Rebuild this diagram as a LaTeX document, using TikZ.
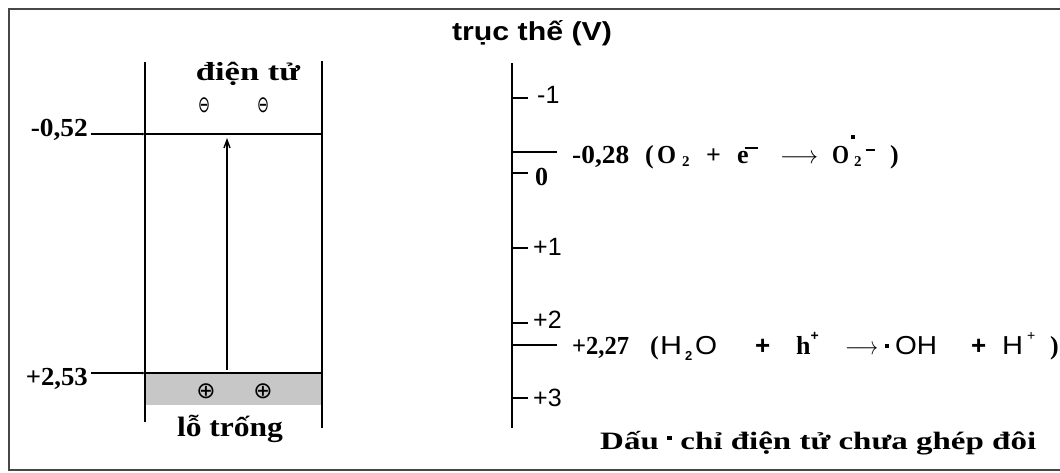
\documentclass[tikz,border=0pt]{standalone}
\usepackage{fontspec}
\usepackage{graphicx}
\setmainfont{Liberation Serif}
\newfontfamily\sansf{Liberation Sans}
\newfontfamily\symf{DejaVu Sans}
\usetikzlibrary{arrows.meta}
\newcommand\fitw[2]{\resizebox{#1}{\height}{#2}}
\newcommand\fsz[1]{\fontsize{#1}{#1}\selectfont}
\newcommand\upbar{\raisebox{14pt}{\rule{13pt}{1.8pt}}}
\newcommand\sqdot[1]{\raisebox{#1}{\rule{3.8pt}{3.8pt}}}

\tikzset{
  frame/.style={line width=2.6pt, draw=black!72},
  band/.style={line width=1.6pt},
  axisline/.style={line width=1.7pt},
  tickline/.style={line width=1.5pt},
  lbl/.style={inner sep=0pt, font=\fsz{26}\bfseries},
  ticklbl/.style={inner sep=0pt, anchor=west, font=\sansf\fsz{25}},
  sym/.style={inner sep=0pt, font=\symf\fsz{23}},
  leader/.style={line width=1.4pt, -{Latex[length=3pt,width=3pt]}},
}

\begin{document}
\begin{tikzpicture}[x=1pt,y=-1pt]
\useasboundingbox (0,0) rectangle (1060,472);
\draw[frame] (1064,9) -| (9,470) -- (1064,470);

% ---------- left: band diagram ----------
\coordinate (cbL) at (145,134);
\coordinate (cbR) at (322,134);
\coordinate (vbL) at (145,373);
\coordinate (vbR) at (322,373);
\fill[black!22] (146,374) rectangle (321,405);
\draw[band] (145,62) -- (145,422);
\draw[band] (322,61) -- (322,428);
\draw[band] (cbL) -- (cbR);
\draw[band] (vbL) -- (vbR);
\coordinate (arrS) at (227,370);
\coordinate (arrE) at (227,138);
\draw[line width=1.4pt, -{Straight Barb[length=8pt,width=6pt]}] (arrS) -- (arrE);

\node[lbl, anchor=base east] (e052) at (88,136) {\fitw{57pt}{-0,52}};
\draw[leader] ([xshift=3pt]e052.east |- cbL) -- (cbL);
\node[lbl, anchor=base east] (e253) at (88,385) {\fitw{62pt}{+2,53}};
\draw[leader] ([xshift=3pt]e253.east |- vbL) -- (vbL);

\node[inner sep=0pt, font=\fsz{26}\bfseries, anchor=base] (dientu) at (248,80) {\fitw{104pt}{điện tử}};
\node[sym] (m1) at (204,105) {\fitw{12pt}{⊖}};
\node[sym] (m2) at (263,105) {\fitw{12pt}{⊖}};
\node[sym] (p1) at (206,391) {⊕};
\node[sym] (p2) at (263,391) {⊕};
\node[inner sep=0pt, font=\fsz{28}\bfseries, anchor=base] (lotrong) at (230,436) {\fitw{106pt}{lỗ trống}};

% ---------- right: potential axis ----------
\node[inner sep=0pt, font=\sansf\bfseries\fsz{26}, anchor=base] (title) at (532,40) {\fitw{160pt}{trục thế (V)}};
\coordinate (axT) at (512,63);
\coordinate (axB) at (512,428);
\draw[axisline] (axT) -- (axB);
\foreach \yy in {98,173,248,323,398} \draw[tickline] (512,\yy) -- (528,\yy);
\node[ticklbl] (tm1) at (537,95) {-1};
\node[inner sep=0pt, anchor=west, font=\fsz{26}\bfseries] (t0) at (535,177) {0};
\node[ticklbl] (tp1) at (533,247) {+1};
\node[ticklbl] (tp2) at (533,320) {+2};
\node[ticklbl] (tp3) at (533,398) {+3};

\coordinate (l028) at (557,152);
\coordinate (l227) at (557,345);
\draw[tickline] (axT |- l028) -- (l028);
\draw[tickline] (axT |- l227) -- (l227);

\node[lbl, anchor=base west] (eq1) at (572,163) {%
\makebox[73pt][l]{\fitw{57pt}{-0,28}}%
\makebox[12pt][l]{(}%
\makebox[49pt][l]{\fitw{19pt}{O}\hspace{6pt}\raisebox{-3pt}{\fsz{15}2}}%
\makebox[31pt][l]{+}%
\makebox[43pt][l]{e\hspace{-4pt}\upbar}%
\makebox[52pt][l]{\fitw{38pt}{$\longrightarrow$}}%
\makebox[58pt][l]{\fitw{17pt}{O}\rlap{\hspace{2pt}\sqdot{24pt}}\hspace{5pt}\raisebox{-3pt}{\fsz{15}2}\hspace{4pt}\raisebox{12pt}{\rule{9pt}{1.8pt}}}%
)};

\node[lbl, anchor=base west] (eq2) at (572,354) {%
\makebox[78pt][l]{\fitw{57pt}{+2,27}}%
\makebox[10pt][l]{(}%
\makebox[35pt][l]{\sansf\mdseries\fitw{22pt}{H}\hspace{3pt}\raisebox{-6pt}{\sansf\bfseries\fsz{13}2}}%
\makebox[60pt][l]{\sansf\mdseries\fitw{22pt}{O}}%
\makebox[41pt][l]{\sansf +}%
\makebox[49pt][l]{h\raisebox{14pt}{\sansf\fsz{14}+}}%
\makebox[40pt][l]{\fitw{33pt}{$\longrightarrow$}}%
\makebox[10pt][l]{\sqdot{6pt}}%
\makebox[76pt][l]{\sansf\mdseries\fitw{42pt}{OH}}%
\makebox[31pt][l]{\sansf +}%
\makebox[48pt][l]{\sansf\mdseries\fitw{21pt}{H}\hspace{4pt}\raisebox{14pt}{\fsz{14}+}}%
)};

\node[inner sep=0pt, font=\fsz{25}\bfseries, anchor=base west] (note) at (600,449) {\fitw{436pt}{Dấu \sqdot{9pt} chỉ điện tử chưa ghép đôi}};
\end{tikzpicture}
\end{document}
